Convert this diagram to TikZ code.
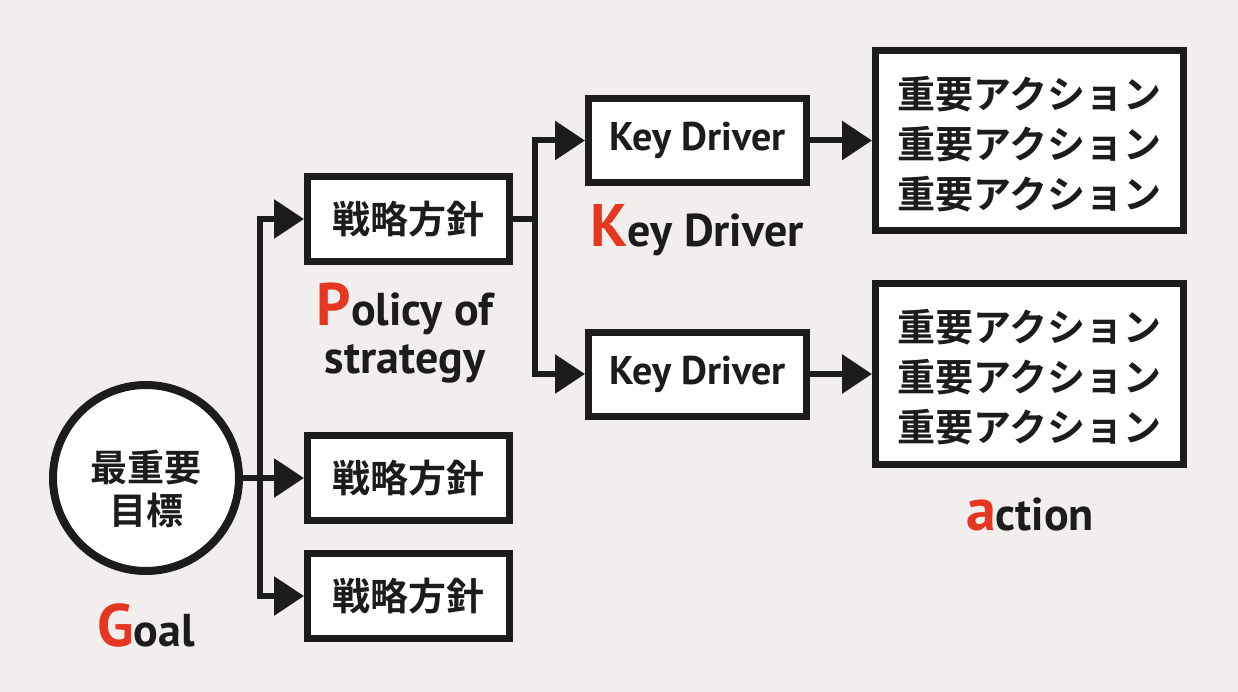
\documentclass[tikz,border=0pt]{standalone}
\usepackage{fontspec}
\setmainfont{PT Sans}
\newfontfamily\jp{Noto Sans CJK JP}[UprightFont=* Bold]
\usetikzlibrary{arrows.meta}
\definecolor{bgc}{HTML}{F3EEEE}
\definecolor{accent}{HTML}{E5361F}
\definecolor{ink}{HTML}{1C1C1C}
\tikzset{
  box/.style={draw=ink, fill=white, line width=7pt, inner sep=0pt, text=ink},
  polbox/.style={box, minimum width=202pt, minimum height=85pt, font=\jp\fontsize{38pt}{45pt}\selectfont},
  kdbox/.style={box, minimum width=218pt, minimum height=84pt, font=\bfseries\fontsize{40pt}{48pt}\selectfont},
  actbox/.style={box, minimum width=308pt, minimum height=180pt},
  acttext/.style={inner sep=0pt, align=center, text=ink, font=\jp\fontsize{38pt}{50pt}\selectfont},
  conn/.style={draw=ink, line width=6pt},
  arr/.style={conn, -{Triangle[length=30pt,width=38pt]}},
  lbl/.style={anchor=base, inner sep=0pt, text=ink, font=\bfseries\fontsize{46pt}{48pt}\selectfont}
}
\newcommand{\redcap}[1]{{\color{accent}\fontsize{60pt}{60pt}\selectfont #1}}
\begin{document}
\begin{tikzpicture}[x=1pt,y=-1pt]
\fill[bgc] (0,0) rectangle (1238,692);
\useasboundingbox (0,0) rectangle (1238,692);
% nodes
\node[circle, draw=ink, fill=white, line width=8pt, minimum size=186pt, inner sep=0pt] (goal) at (146,478) {};
\node[inner sep=0pt, align=center, text=ink, font=\jp\fontsize{37pt}{43pt}\selectfont] (goaltxt) at (146,488.5) {最重要\\目標};
\node[polbox] (p1) at (408.5,219) {戦略方針};
\node[polbox] (p2) at (408.5,478) {戦略方針};
\node[polbox] (p3) at (408.5,596) {戦略方針};
\node[kdbox] (kd1) at (697.5,140.5) {Key Driver};
\node[kdbox] (kd2) at (697.5,374) {Key Driver};
\node[actbox] (a1) at (1029.5,140.5) {};
\node[acttext] (a1t) at (1029.5,144) {重要アクション\\重要アクション\\重要アクション};
\node[actbox] (a2) at (1029.5,374) {};
\node[acttext] (a2t) at (1029.5,377) {重要アクション\\重要アクション\\重要アクション};
% labels
\node[lbl] (lgoal) at (146,646) {\redcap{G}oal};
\node[lbl] (lpol1) at (405,325) {\redcap{P}olicy of};
\node[lbl] (lpol2) at (405,373) {strategy};
\node[lbl] (lkd) at (697,247) {\redcap{K}ey Driver};
\node[lbl] (lact) at (1030,530) {\redcap{a}ction};
% connectors
\coordinate (j) at (260,478);
\coordinate (k) at (535,219);
\draw[arr] (goal.east) -- (p2.west);
\draw[arr] (j) |- (p1.west);
\draw[arr] (j) |- (p3.west);
\draw[conn] (p1.east) -- (k);
\draw[arr] (k) |- (kd1.west);
\draw[arr] (k) |- (kd2.west);
\draw[arr] (kd1.east) -- (a1.west);
\draw[arr] (kd2.east) -- (a2.west);
\end{tikzpicture}
\end{document}
